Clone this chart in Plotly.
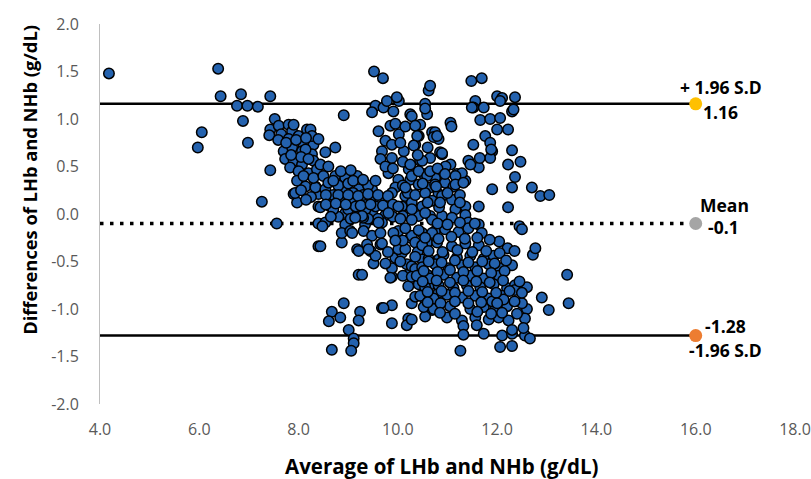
import plotly.graph_objects as go

# ---- data (average, difference) ----
pts_left = [
    (4.18, 1.48), (6.38, 1.53), (6.43, 1.24), (6.84, 1.26), (7.43, 1.24), (6.76, 1.14), (6.97, 1.14),
    (7.18, 1.13), (6.88, 0.98), (6.05, 0.86), (5.97, 0.70), (6.98, 0.75), (7.43, 0.46), (7.26, 0.13),
    (7.56, -0.10), (7.52, 1.00), (7.43, 0.89), (7.41, 0.83), (7.60, 0.93), (7.65, 0.84), (7.59, 0.78),
    (7.80, 0.94), (7.87, 0.87), (7.80, 0.79), (8.00, 0.82), (8.17, 0.89), (8.24, 0.80), (8.10, 0.73),
    (8.30, 0.73), (7.70, 0.66), (7.87, 0.70), (8.07, 0.66), (8.27, 0.63), (7.73, 0.58), (7.90, 0.56),
    (8.07, 0.52), (8.30, 0.56), (7.83, 0.49), (8.00, 0.45), (8.20, 0.43), (8.37, 0.47), (7.97, 0.35),
    (8.14, 0.29), (8.34, 0.29), (7.90, 0.21), (7.97, 0.12), (8.40, 0.21), (8.40, 0.08), (8.40, -0.10),
    (8.40, -0.34), (7.90, 0.94), (8.24, 0.89), (8.27, 0.82), (8.40, 0.79), (8.54, 0.65), (8.74, 0.70),
    (8.14, 0.68), (8.44, 0.52), (8.34, 0.28), (8.54, 0.26), (7.93, 0.22),
    (7.75, 0.75), (7.95, 0.78), (8.15, 0.80), (8.05, 0.60), (8.20, 0.58), (7.85, 0.62), (8.10, 0.40),
    (8.30, 0.38), (8.25, 0.18), (8.15, 0.15), (8.50, 0.40), (8.60, 0.50), (8.05, 0.25),
]
pts_mid = [
    (8.91, 1.04), (9.55, 1.14), (9.48, 1.07), (9.71, 1.12), (9.91, 1.08), (10.02, 1.19), (10.25, 1.05),
    (9.85, 0.93), (9.61, 0.87), (10.02, 0.84), (9.75, 0.77), (9.88, 0.73), (9.68, 0.66), (10.12, 0.66),
    (9.65, 0.58), (9.88, 0.59), (9.81, 0.43), (10.01, 0.36), (9.95, 0.28), (9.88, 0.22), (10.22, 0.47),
    (10.25, 0.36), (10.15, 0.19), (10.08, 0.08), (10.28, 0.12), (8.74, 0.40), (8.94, 0.38), (9.18, 0.40),
    (9.48, 0.26), (8.87, 0.26), (9.21, 0.26), (8.67, 0.15), (8.87, 0.12), (9.08, 0.15), (9.28, 0.12),
    (9.48, 0.14), (9.65, 0.15), (8.44, 0.07), (8.64, 0.08), (8.94, 0.01), (9.21, -0.01), (9.48, 0.01),
    (9.75, -0.01), (8.54, -0.09), (8.94, -0.11), (9.34, -0.11), (9.68, -0.09), (8.60, 0.33), (8.80, 0.30),
    (9.00, 0.32), (9.10, 0.22), (9.30, 0.20), (9.40, 0.30), (8.70, 0.20), (9.00, 0.05), (9.15, 0.08),
    (9.35, 0.05), (9.55, 0.08), (9.60, -0.05), (9.40, -0.05), (9.05, -0.05), (8.80, -0.03), (8.70, 0.05),
    (9.52, 1.50), (9.70, 1.43), (9.78, 1.19), (9.98, 1.23), (10.28, 1.03),
    (8.70, 0.35), (9.10, 0.35), (9.30, 0.36), (9.55, 0.35), (8.55, 0.20), (8.80, 0.20), (9.00, 0.20),
    (9.20, 0.19), (9.40, 0.21), (9.60, 0.20), (9.80, 0.19), (8.55, 0.10), (8.75, 0.11), (8.95, 0.10),
    (9.25, 0.09), (9.45, 0.10), (9.70, 0.09), (9.90, 0.10), (8.65, -0.03), (9.30, -0.04), (9.90, -0.03),
    (10.10, -0.02), (8.85, 0.45), (9.05, 0.46), (9.75, 0.50), (9.90, 0.48), (10.10, 0.55), (10.05, 0.75),
    (9.95, 0.95), (10.15, 0.92), (10.10, 0.30), (10.20, 0.22),
]
pts_up_right = [
    (10.35, 0.73), (10.42, 0.82), (10.45, 0.94), (10.55, 1.16), (10.62, 1.30), (10.65, 1.35), (10.59, 1.05),
    (10.69, 0.86), (10.82, 0.79), (10.85, 0.65), (10.65, 0.59), (10.45, 0.56), (10.25, 0.52), (10.28, 0.40),
    (10.52, 0.42), (10.75, 0.38), (10.15, 0.28), (10.42, 0.31), (10.65, 0.28), (10.82, 0.21), (10.55, 1.11),
    (10.35, 0.93), (10.39, 0.82), (10.32, 0.72), (10.75, 0.86), (10.72, 0.81), (10.89, 0.63), (10.49, 0.56),
    (10.42, 0.45), (10.59, 0.40), (10.75, 0.31), (10.69, 0.14), (10.49, 0.08), (10.42, -0.02), (10.65, -0.02),
    (10.89, -0.02), (11.48, 1.40), (11.69, 1.43), (11.56, 1.19), (12.00, 1.24), (12.10, 1.22), (12.36, 1.23),
    (11.52, 1.12), (11.73, 1.12), (12.30, 1.08), (11.66, 0.99), (11.86, 1.00), (12.06, 1.01), (12.00, 0.89),
    (12.22, 0.89), (11.06, 0.96), (11.08, 0.92), (10.79, 0.82), (11.76, 0.82), (11.86, 0.75), (11.52, 0.73),
    (11.90, 0.66), (11.86, 0.59), (12.30, 0.67), (12.47, 0.55), (12.22, 0.52), (12.36, 0.39), (12.30, 0.28),
    (12.70, 0.28), (12.87, 0.19), (13.05, 0.20), (11.90, 0.26), (11.63, 0.08), (12.22, 0.07), (10.89, 0.64),
    (11.06, 0.52), (11.42, 0.56), (11.63, 0.49), (11.36, 0.35), (11.19, 0.42), (10.95, 0.33), (11.12, 0.29),
    (10.77, 0.29), (10.89, 0.19), (11.09, 0.15), (11.36, 0.08), (10.83, 0.07), (11.88, 0.68), (11.65, 0.59),
    (11.46, 0.52), (11.29, 0.43), (11.16, 0.40), (10.96, 0.50), (11.16, 0.31), (11.32, 0.33), (11.16, 0.05),
    (11.36, -0.01), (11.09, -0.04), (11.42, -0.09), (11.63, -0.11), (12.45, -0.13), (11.49, 1.12),
    (12.06, 1.19), (12.33, 1.10),
    (10.35, 0.20), (10.55, 0.22), (10.50, 0.32), (10.65, 0.45), (10.80, 0.48), (10.95, 0.42), (10.60, 0.12),
    (10.85, 0.12), (11.00, 0.22), (11.25, 0.20), (11.25, 0.12), (10.40, 0.62), (10.60, 0.70),
]
pts_low_left = [
    (8.44, -0.34), (8.87, -0.30), (9.18, -0.37), (9.51, -0.52), (9.21, -0.64), (9.28, -0.64), (9.88, -0.66),
    (10.21, -0.76), (10.28, -0.94), (8.91, -0.94), (8.67, -1.03), (8.84, -1.09), (8.61, -1.13), (9.24, -1.03),
    (9.21, -1.12), (9.68, -0.99), (9.88, -0.96), (9.88, -1.15), (10.21, -1.10), (10.18, -1.17), (9.01, -1.22),
    (9.11, -1.31), (9.11, -1.36), (8.67, -1.43), (9.06, -1.44), (8.87, -0.20), (9.04, -0.18), (9.31, -0.18),
    (9.48, -0.23), (9.65, -0.20), (9.45, -0.39), (9.55, -0.44), (9.65, -0.32), (9.38, -0.32), (9.88, -0.57),
    (9.95, -0.46), (10.08, -0.41), (10.18, -0.53), (10.21, -0.64), (10.01, -0.37), (10.25, -0.25),
    (10.01, -0.18), (8.48, -0.13), (9.28, -0.02), (9.08, -0.20), (9.21, -0.39), (9.41, -0.37), (9.85, -0.67),
    (9.68, -0.31), (9.91, -0.20), (9.61, -0.09), (9.14, -0.04), (9.71, -0.99), (10.28, -0.06), (10.01, 0.08),
    (9.81, 0.01), (10.28, -0.23), (10.15, -0.37), (10.28, -0.55),
    (10.05, -0.05), (10.15, -0.15), (10.10, -0.28), (10.35, -0.30), (10.40, -0.40), (10.05, -0.50),
    (10.35, -0.58), (10.10, -0.65), (9.95, -0.28), (9.80, -0.40), (9.75, -0.52),
]
pts_low_right = [
    (10.35, -0.87), (10.55, -0.90), (10.69, -1.01), (10.55, -1.08), (10.28, -0.66), (10.42, -0.74),
    (10.59, -0.64), (10.62, -0.76), (10.79, -0.62), (10.82, -0.83), (10.82, -0.48), (10.49, -0.48),
    (10.49, -0.20), (10.59, -0.30), (10.69, -0.06), (10.75, -0.18), (10.55, 0.01), (10.28, 0.05),
    (10.42, -0.17), (10.69, -0.20), (10.95, -0.16), (11.22, -0.19), (11.42, -0.15), (11.69, -0.20),
    (12.50, -0.16), (12.04, -0.29), (12.21, -0.36), (12.35, -0.39), (12.72, -0.43), (12.77, -0.36),
    (10.49, -0.33), (10.79, -0.30), (11.09, -0.34), (11.36, -0.31), (11.63, -0.33),
    (10.35, -0.45), (10.62, -0.47), (10.92, -0.43), (11.19, -0.46), (11.46, -0.44), (11.73, -0.47), (11.93, -0.44),
    (10.49, -0.56), (10.75, -0.53), (11.02, -0.57), (11.29, -0.54), (11.56, -0.56), (11.83, -0.53),
    (12.06, -0.57), (12.30, -0.54),
    (10.38, -0.65), (10.65, -0.68), (10.92, -0.64), (11.19, -0.67), (11.46, -0.65), (11.73, -0.68), (12.03, -0.65),
    (10.55, -0.77), (10.82, -0.75), (11.12, -0.78), (11.39, -0.75), (11.66, -0.77), (11.93, -0.74),
    (12.20, -0.78), (12.36, -0.75), (12.60, -0.77),
    (10.45, -0.86), (10.72, -0.89), (10.99, -0.85), (11.29, -0.88), (11.56, -0.86), (11.83, -0.89), (12.10, -0.86),
    (10.52, -0.98), (10.72, -1.00), (11.05, -0.97), (11.46, -1.00), (11.73, -0.98), (11.96, -1.00),
    (12.20, -0.97), (12.60, -1.00),
    (10.28, -1.11), (10.99, -1.09), (11.29, -1.12), (11.56, -1.09), (11.83, -1.11), (12.03, -1.09),
    (12.23, -1.12), (12.56, -1.10),
    (11.59, -1.17), (11.32, -1.18), (11.32, -1.27), (11.73, -1.26), (12.10, -1.28), (12.30, -1.26),
    (12.56, -1.28), (12.06, -1.40), (12.30, -1.39), (11.26, -1.44), (12.66, -1.31),
    (13.41, -0.64), (13.44, -0.94), (12.90, -0.88), (13.04, -1.01), (12.53, -1.20), (12.30, -1.22),
    (12.36, -0.80), (12.50, -0.94), (12.13, -0.90), (11.90, -0.92),
    (10.55, -0.25), (10.82, -0.26), (11.08, -0.24), (11.35, -0.26), (11.60, -0.25), (11.85, -0.27),
    (10.62, -0.39), (10.90, -0.40), (11.20, -0.38), (11.50, -0.40), (11.78, -0.39), (12.05, -0.41),
    (10.62, -0.50), (10.88, -0.51), (11.15, -0.49), (11.42, -0.51), (11.70, -0.50), (11.95, -0.52), (12.18, -0.49),
    (10.52, -0.60), (10.80, -0.61), (11.05, -0.59), (11.32, -0.61), (11.60, -0.60), (11.88, -0.62), (12.15, -0.60),
    (10.50, -0.71), (10.78, -0.70), (11.05, -0.72), (11.32, -0.70), (11.58, -0.71), (11.85, -0.72),
    (12.12, -0.70), (12.45, -0.71),
    (10.60, -0.82), (10.88, -0.81), (11.15, -0.83), (11.42, -0.81), (11.70, -0.82), (11.98, -0.83),
    (12.25, -0.81), (12.50, -0.83),
    (10.60, -0.93), (10.86, -0.94), (11.15, -0.92), (11.42, -0.94), (11.68, -0.93), (12.00, -0.94), (12.35, -0.92),
    (10.85, -1.04), (11.15, -1.05), (11.60, -1.03), (11.88, -1.05), (12.10, -1.04), (12.40, -1.05),
    (10.80, -0.10), (11.00, -0.11), (11.25, -0.09), (11.55, -0.10),
]

upper_loa = 1.16
mean_diff = -0.1
lower_loa = -1.28
line_x = [4.0, 16.0]
x_ticks = [4, 6, 8, 10, 12, 14, 16, 18]
y_ticks = [-2.0, -1.5, -1.0, -0.5, 0.0, 0.5, 1.0, 1.5, 2.0]

all_pts = pts_left + pts_mid + pts_up_right + pts_low_left + pts_low_right
avg_vals = [p[0] for p in all_pts]
diff_vals = [p[1] for p in all_pts]

FONT = "Open Sans"
fig = go.Figure()

# reference lines
fig.add_trace(go.Scatter(x=line_x, y=[upper_loa] * 2, mode="lines",
                         line=dict(color="black", width=2.5), hoverinfo="skip"))
fig.add_trace(go.Scatter(x=line_x, y=[lower_loa] * 2, mode="lines",
                         line=dict(color="black", width=2.5), hoverinfo="skip"))
fig.add_trace(go.Scatter(x=line_x, y=[mean_diff] * 2, mode="lines",
                         line=dict(color="black", width=3.5, dash="3.5px,6.5px"), hoverinfo="skip"))

# data points
fig.add_trace(go.Scatter(x=avg_vals, y=diff_vals, mode="markers",
                         marker=dict(size=10.5, color="#2462AE", line=dict(color="black", width=1.5))))

# end markers
fig.add_trace(go.Scatter(x=[line_x[1]] * 3, y=[upper_loa, mean_diff, lower_loa], mode="markers",
                         marker=dict(size=13, color=["#FFC000", "#A5A5A5", "#ED7D31"])))

ann_font = dict(family=FONT, size=17.5, color="black")
labels = [
    ("<b>+ 1.96 S.D</b>", 16.5, upper_loa + 0.18),
    ("<b>1.16</b>", 16.5, upper_loa - 0.09),
    ("<b>Mean</b>", 16.57, mean_diff + 0.2),
    ("<b>-0.1</b>", 16.55, mean_diff - 0.04),
    ("<b>-1.28</b>", 16.6, lower_loa + 0.10),
    ("<b>-1.96 S.D</b>", 16.6, lower_loa - 0.15),
]
annotations = [dict(text=t, x=x, y=y, xref="x", yref="y", showarrow=False, font=ann_font,
                    xanchor="center", yanchor="middle") for t, x, y in labels]
annotations.append(dict(text="<b>Average of LHb and NHb (g/dL)</b>", x=0.492, y=0, xref="paper", yref="paper",
                        yshift=-62, showarrow=False, xanchor="center", yanchor="middle",
                        font=dict(family=FONT, size=20.5, color="black")))
annotations.append(dict(text="<b>Differences of LHb and NHb (g/dL)</b>", x=0, y=0.59, xref="paper",
                        yref="paper", xshift=-70, textangle=-90, showarrow=False, xanchor="center",
                        yanchor="middle", font=dict(family=FONT, size=18.3, color="black")))

fig.update_layout(
    width=811, height=479,
    margin=dict(l=100, r=16, t=24, b=75, autoexpand=False),
    paper_bgcolor="white", plot_bgcolor="white",
    showlegend=False,
    font=dict(family=FONT),
    annotations=annotations,
    xaxis=dict(range=[4, 18], tickvals=x_ticks, ticktext=[f"{v:.1f}" for v in x_ticks],
               showgrid=False, zeroline=False, showline=False, ticks="", automargin=False,
               tickfont=dict(size=16, color="#595959"), ticklabelstandoff=14),
    yaxis=dict(range=[-2, 2], tickvals=y_ticks, ticktext=[f"{v:.1f}" for v in y_ticks],
               showgrid=False, zeroline=False, showline=True, linecolor="#BFBFBF", linewidth=1, ticks="",
               automargin=False, tickfont=dict(size=16, color="#595959"), ticklabelstandoff=17),
)

fig.write_html("out.html", config={"displayModeBar": False},
               post_script="document.body.style.margin='0';document.body.style.overflow='hidden';")
